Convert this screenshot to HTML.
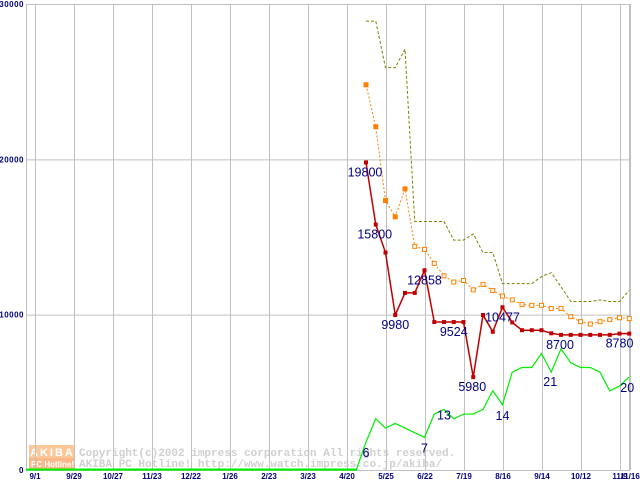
<!DOCTYPE html>
<html><head><meta charset="utf-8"><style>
html,body{margin:0;padding:0;background:#fff;width:640px;height:480px;overflow:hidden}
svg{display:block}
</style></head><body>
<svg id="chart" width="640" height="480" xmlns="http://www.w3.org/2000/svg" font-family="Liberation Sans, sans-serif"></svg>
<script>
const xTickLabels=["9/1","9/29","10/27","11/23","12/22","1/26","2/23","3/23","4/20","5/25","6/22","7/19","8/16","9/14","10/12","11/9","11/16"];
const yTickLabels=[0,10000,20000,30000];
const weeks=["5/11","5/18","5/25","6/1","6/8","6/15","6/22","6/29","7/6","7/13","7/19","7/26","8/2","8/9","8/16","8/23","8/30","9/7","9/14","9/21","9/28","10/5","10/12","10/19","10/26","11/2","11/9","11/16"];
const minPrice=[19800,15800,14000,9980,11400,11400,12858,9524,9524,9524,9524,5980,9980,8900,10477,9500,9000,9000,9000,8800,8700,8700,8700,8700,8700,8700,8780,8780];
const avgPrice=[24800,22100,17350,16300,18100,14400,14200,13300,12500,12100,12200,11600,11950,11550,11200,10950,10650,10600,10600,10400,10400,9870,9550,9400,9550,9680,9800,9750];
const maxPrice=[28900,28900,25900,25900,27100,16000,16000,16000,16000,14800,14800,15200,14000,14000,12000,12000,12000,12000,12450,12700,11800,10850,10850,10850,10950,10850,10850,11550];
const shopCount=[6,11,9,10,9,8,7,12,13,11,12,12,13,17,14,21,22,22,25,21,26,23,22,22,21,17,18,20];
const priceLabels=[[0,"19800",-1,14],[1,"15800",-1,14],[3,"9980",0,14],[6,"12858",0,14],[9,"9524",0,14],[11,"5980",-1,14],[14,"10477",0,14],[20,"8700",-1,14],[26,"8780",0,14]];
const countLabels=[[0,"6",0,15],[6,"7",0,15],[8,"13",0,10],[14,"14",0,15],[19,"21",-1,14],[27,"20",-2,15]];

const NS="http://www.w3.org/2000/svg";
const svg=document.getElementById('chart');
const L=26,R=630,T=4,B=470;
const yPx=v=>B-v*(B-T)/30000;
const cPx=c=>yPx(c*300);
const wx=i=>366+i*9.75;
const tx=i=>35+i*39;
function mk(tag,attrs,parent){const e=document.createElementNS(NS,tag);for(const k in attrs)e.setAttribute(k,attrs[k]);(parent||svg).appendChild(e);return e;}

// watermark
const wm=mk('g',{});


mk('rect',{x:29,y:445,width:46,height:13,fill:'#fcc89a'},wm);
mk('rect',{x:29,y:458,width:46,height:11,fill:'#f8b888'},wm);
const t1=mk('text',{x:30,y:456,'font-size':11,'font-weight':'bold',fill:'#fff','letter-spacing':'2'},wm);t1.textContent='AKIBA';
const t2=mk('text',{x:31,y:467,'font-size':8,'font-weight':'bold',fill:'#fff'},wm);t2.textContent='PC Hotline!';
const t3=mk('text',{x:79,y:456,'font-size':11,'font-family':'Liberation Mono, monospace','font-weight':'bold',fill:'#d0d0d0'},wm);t3.textContent='Copyright(c)2002 impress corporation All rights reserved.';
const t4=mk('text',{x:79,y:467,'font-size':11,'font-family':'Liberation Mono, monospace','font-weight':'bold',fill:'#d0d0d0'},wm);t4.textContent='AKIBA PC Hotline!  http://www.watch.impress.co.jp/akiba/';

// grid
const grid=mk('g',{stroke:'#c0c0c0','stroke-width':1});


yTickLabels.forEach(v=>{mk('line',{x1:L,x2:R,y1:yPx(v)+0.5,y2:yPx(v)+0.5},grid);});
mk('line',{x1:L+0.5,x2:L+0.5,y1:T,y2:B},grid);
mk('line',{x1:R+0.5,x2:R+0.5,y1:T,y2:B},grid);
xTickLabels.forEach((s,i)=>{const x=i<16?tx(i):629;mk('line',{x1:x+0.5,x2:x+0.5,y1:T,y2:B},grid);});

// y labels
yTickLabels.forEach(v=>{
  const t=mk('text',{x:24,y:yPx(v)+3,'font-size':8,'font-weight':'bold','text-anchor':'end',fill:'#000080','letter-spacing':'0.5'});
  
  
  t.textContent=v;
});
// x labels
xTickLabels.forEach((s,i)=>{
  const x=i<16?tx(i):630;
  const t=mk('text',{x:x,y:479,'font-size':8,'font-weight':'bold','text-anchor':'middle',fill:'#000080'});
  
  
  t.textContent=s;
});

// green count line
let gp=`${L},${B} ${wx(-1)},${B} `+shopCount.map((c,i)=>`${wx(i)},${cPx(c)}`).join(' ');
const gl=mk('polyline',{points:gp,fill:'none',stroke:'#00ee00','stroke-width':1.2});


mk('line',{x1:L,x2:wx(-1),y1:B-0.5,y2:B-0.5,stroke:'#00ee00','stroke-width':2});

// max line
const ml=mk('polyline',{points:maxPrice.map((v,i)=>`${wx(i)},${yPx(v)}`).join(' '),fill:'none',stroke:'#808000','stroke-width':1,'stroke-dasharray':'3,2'});



// avg line
const al=mk('polyline',{points:avgPrice.map((v,i)=>`${wx(i)},${yPx(v)}`).join(' '),fill:'none',stroke:'#ff8000','stroke-width':1,'stroke-dasharray':'2,2'});


avgPrice.forEach((v,i)=>{
  const r=mk('rect',{x:wx(i)-2,y:yPx(v)-2,width:4,height:4,fill:i<5?'#ff8000':'#fff',stroke:'#ff8000','stroke-width':1});
  
  
});

// min line
const rl=mk('polyline',{points:minPrice.map((v,i)=>`${wx(i)},${yPx(v)}`).join(' '),fill:'none',stroke:'#c00000','stroke-width':1.5});


minPrice.forEach((v,i)=>{
  const r=mk('rect',{x:wx(i)-2,y:yPx(v)-2,width:4,height:4,fill:'#c00000'});
  
  
});

// labels
priceLabels.forEach(([i,s,dx,dy])=>{
  const t=mk('text',{x:wx(i)+dx,y:yPx(minPrice[i])+dy,'font-size':12.5,'text-anchor':'middle',fill:'#000080'});
  
  
  t.textContent=s;
});
countLabels.forEach(([i,s,dx,dy])=>{
  const t=mk('text',{x:wx(i)+dx,y:cPx(shopCount[i])+dy,'font-size':12.5,'text-anchor':'middle',fill:'#000080'});
  
  
  t.textContent=s;
});
</script>
</body></html>
